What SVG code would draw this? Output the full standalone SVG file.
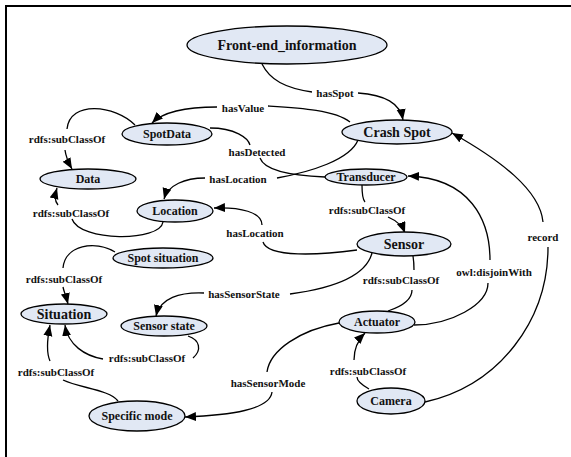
<svg xmlns="http://www.w3.org/2000/svg" width="571" height="457" viewBox="0 0 571 457">
<style>
.n ellipse{fill:#e1e8f4;stroke:#000;stroke-width:1.3}
.n text{font-family:"Liberation Serif","Times New Roman",serif;font-weight:bold;fill:#111;text-anchor:middle}
.c path{fill:none;stroke:#000;stroke-width:1.3}
.c path.a{marker-end:url(#ah)}
.l text{font-family:"Liberation Serif","Times New Roman",serif;font-weight:bold;font-size:11px;fill:#111;text-anchor:middle}
</style>
<defs>
<marker id="ah" markerUnits="userSpaceOnUse" markerWidth="12" markerHeight="10" refX="11" refY="4.5" orient="auto">
<path d="M0,0 L11,4.5 L0,9 Z" fill="#000"/>
</marker>
</defs>
<rect width="571" height="457" fill="#fff"/>
<path d="M6,457 V6 H571" fill="none" stroke="#000" stroke-width="2"/>
<g class="c">
<path d="M262,64 C270,80 285,88 312,92"/>
<path class="a" d="M358,93 C385,95 400,103 403,120"/>
<path d="M350,122 C335,110 300,108 268,106"/>
<path class="a" d="M217,107 C185,107 162,113 152,123"/>
<path d="M210,128 C235,128 248,138 250,145"/>
<path d="M260,158 C265,172 300,176 325,177"/>
<path d="M358,140 C350,160 310,172 277,178"/>
<path class="a" d="M205,178 C185,178 168,185 164,199"/>
<path d="M163,222 C160,242 80,242 72,219"/>
<path class="a" d="M58,205 C54,200 55,195 57,188"/>
<path d="M135,125 C115,105 70,100 67,129"/>
<path class="a" d="M65,150 C66,158 68,162 72,169"/>
<path d="M357,250 C320,255 268,258 263,242"/>
<path class="a" d="M262,225 C262,212 240,207 214,208"/>
<path d="M115,252 C95,240 65,245 63,268"/>
<path class="a" d="M63,287 C64,292 66,296 68,304"/>
<path d="M372,253 C365,280 320,290 290,294"/>
<path class="a" d="M204,293 C180,292 160,298 156,316"/>
<path d="M362,185 C362,195 363,200 365,202"/>
<path class="a" d="M388,217 C395,220 402,225 405,233"/>
<path d="M413,256 C414,262 414,267 414,270"/>
<path d="M412,290 C412,300 400,307 388,311"/>
<path d="M414,325 C450,325 488,305 488,283"/>
<path class="a" d="M490,260 C490,220 470,178 408,176"/>
<path d="M425,402 C500,385 548,320 548,247"/>
<path class="a" d="M543,222 C540,190 500,160 452,133"/>
<path d="M369,389 C362,385 357,380 357,377"/>
<path class="a" d="M354,360 C354,350 358,340 365,333"/>
<path d="M339,323 C300,330 270,350 267,372"/>
<path class="a" d="M272,392 C270,410 230,415 185,417"/>
<path d="M188,336 C200,340 202,350 193,358"/>
<path class="a" d="M103,359 C85,356 68,345 65,325"/>
<path d="M118,401 C110,390 80,388 63,380"/>
<path class="a" d="M50,361 C46,352 47,340 50,325"/>
</g>
<g class="l">
<text x="335" y="97">hasSpot</text>
<text x="243" y="112">hasValue</text>
<text x="257" y="156">hasDetected</text>
<text x="238" y="183">hasLocation</text>
<text x="71" y="217">rdfs:subClassOf</text>
<text x="67" y="143">rdfs:subClassOf</text>
<text x="255" y="237">hasLocation</text>
<text x="64" y="283">rdfs:subClassOf</text>
<text x="244" y="298">hasSensorState</text>
<text x="367" y="214">rdfs:subClassOf</text>
<text x="401" y="284">rdfs:subClassOf</text>
<text x="494" y="276">owl:disjoinWith</text>
<text x="543" y="241">record</text>
<text x="368" y="375">rdfs:subClassOf</text>
<text x="268" y="387">hasSensorMode</text>
<text x="147" y="362">rdfs:subClassOf</text>
<text x="56" y="376">rdfs:subClassOf</text>
</g>
<g id="front-end" class="n"><ellipse cx="287" cy="45" rx="100" ry="19"/><text x="287" y="50" font-size="14">Front-end_information</text></g>
<g id="crash-spot" class="n"><ellipse cx="397" cy="132" rx="55" ry="12"/><text x="397" y="137" font-size="14">Crash Spot</text></g>
<g id="spotdata" class="n"><ellipse cx="167" cy="134" rx="45" ry="11"/><text x="167" y="138" font-size="12">SpotData</text></g>
<g id="data" class="n"><ellipse cx="88" cy="179" rx="48" ry="10"/><text x="88" y="183" font-size="12">Data</text></g>
<g id="location" class="n"><ellipse cx="175" cy="211" rx="38" ry="11"/><text x="175" y="215" font-size="12">Location</text></g>
<g id="spot-situation" class="n"><ellipse cx="163" cy="258" rx="50" ry="10"/><text x="163" y="262" font-size="12">Spot situation</text></g>
<g id="situation" class="n"><ellipse cx="64" cy="314" rx="43" ry="10"/><text x="64" y="319" font-size="14">Situation</text></g>
<g id="sensor-state" class="n"><ellipse cx="164" cy="326" rx="43" ry="10"/><text x="164" y="330" font-size="12">Sensor state</text></g>
<g id="specific-mode" class="n"><ellipse cx="137" cy="416" rx="48" ry="15"/><text x="137" y="420" font-size="12">Specific mode</text></g>
<g id="transducer" class="n"><ellipse cx="366" cy="177" rx="41" ry="8"/><text x="366" y="181" font-size="12">Transducer</text></g>
<g id="sensor" class="n"><ellipse cx="404" cy="244" rx="47" ry="12"/><text x="404" y="249" font-size="14">Sensor</text></g>
<g id="actuator" class="n"><ellipse cx="377" cy="322" rx="38" ry="11"/><text x="377" y="326" font-size="12">Actuator</text></g>
<g id="camera" class="n"><ellipse cx="391" cy="401" rx="34" ry="13"/><text x="391" y="405" font-size="12">Camera</text></g>
</svg>
